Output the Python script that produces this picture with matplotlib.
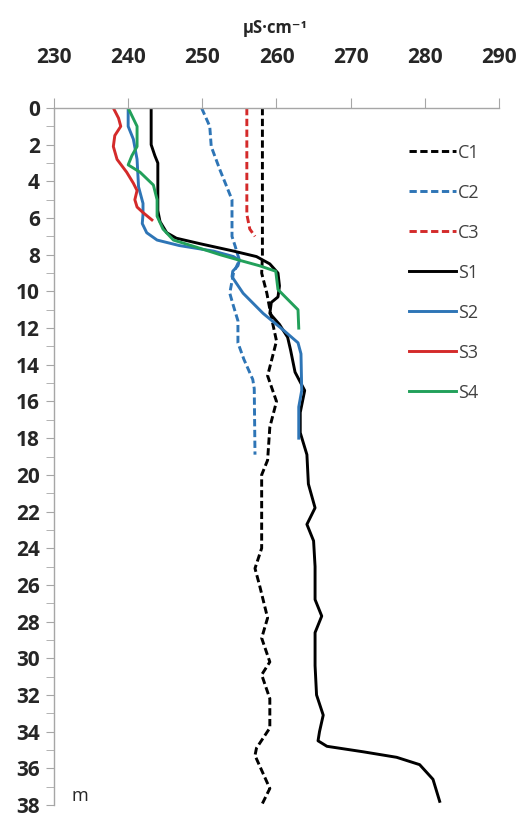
import matplotlib.pyplot as plt
from matplotlib.ticker import MultipleLocator

plt.rcParams['font.family'] = ['Open Sans', 'DejaVu Sans']

# depth (m) and conductivity (uS/cm)
c1_depth = [0, 8.1, 9.0, 10.1, 11.4, 12.7, 14.6, 16.0, 17.4, 19.2, 20.0, 21.8, 24.0, 25.1, 26.0,
            27.8, 28.9, 30.2, 30.9, 32.2, 33.8, 34.9, 35.3, 37.1, 38.0]
c1_val = [258.1, 258.1, 258.0, 258.7, 259.3, 260.0, 258.8, 260.0, 259.1, 258.8, 258.0, 258.0, 258.0,
          257.1, 257.7, 258.8, 258.0, 259.1, 258.0, 259.1, 259.1, 257.3, 257.1, 259.1, 258.0]

c2_depth = [0, 1.0, 2.1, 3.4, 4.5, 5.0, 7.0, 7.5, 8.3, 9.0, 10.1, 10.8, 11.6, 12.8, 13.7, 14.8, 15.3, 18.9]
c2_val = [249.9, 251.0, 251.2, 252.4, 253.5, 254.0, 254.0, 254.4, 255.0, 254.2, 253.7, 254.2, 254.8,
          254.8, 255.6, 256.8, 257.0, 257.1]

c3_depth = [0, 5.8, 6.6, 7.0]
c3_val = [256.0, 256.0, 256.4, 257.1]

s1_depth = [0, 2.0, 2.6, 3.0, 5.6, 6.2, 6.8, 7.1, 7.4, 7.8, 8.1, 8.5, 9.0, 9.7, 10.3, 10.6, 11.2, 11.8,
            12.5, 13.2, 14.4, 15.4, 16.6, 17.7, 18.9, 20.5, 21.8, 22.7, 23.6, 25.0, 26.8, 27.7, 28.6,
            30.4, 32.0, 33.1, 34.0, 34.5, 34.8, 35.1, 35.4, 35.8, 36.6, 37.8]
s1_val = [243.1, 243.1, 243.6, 244.0, 244.0, 244.3, 245.2, 246.5, 249.7, 254.2, 257.3, 259.1, 260.2,
          260.4, 260.2, 259.3, 259.1, 260.4, 261.5, 261.9, 262.5, 263.8, 263.2, 263.2, 264.1, 264.3,
          265.2, 264.1, 265.0, 265.2, 265.2, 266.1, 265.2, 265.2, 265.4, 266.3, 265.8, 265.6, 266.8,
          271.7, 276.2, 279.3, 281.1, 282.0]

s2_depth = [0, 1.0, 1.7, 2.8, 4.3, 5.2, 5.8, 6.3, 6.8, 7.2, 7.5, 7.8, 8.1, 8.3, 8.6, 8.9, 9.2, 10.1,
            11.2, 12.1, 12.8, 13.4, 15.4, 16.3, 18.0]
s2_val = [240.0, 240.0, 240.7, 241.2, 241.4, 242.0, 242.0, 241.9, 242.5, 243.9, 246.9, 251.5, 254.2,
          255.0, 254.8, 254.1, 254.0, 255.5, 258.2, 260.9, 262.9, 263.3, 263.4, 263.0, 263.0]

s3_depth = [0, 0.55, 1.0, 1.5, 2.1, 2.8, 3.5, 4.1, 4.5, 5.0, 5.4, 5.7, 6.1]
s3_val = [238.0, 238.7, 239.0, 238.2, 238.0, 238.5, 239.8, 240.7, 241.2, 240.9, 241.2, 242.0, 243.2]

s4_depth = [0, 1.0, 2.1, 2.6, 3.1, 3.5, 4.2, 5.0, 5.9, 6.6, 7.2, 7.6, 8.0, 8.3, 8.6, 8.9, 9.9, 11.0, 12.0]
s4_val = [240.0, 241.2, 241.2, 240.5, 240.0, 241.6, 243.4, 243.9, 243.9, 244.7, 246.1, 249.3, 252.4,
          255.0, 257.7, 259.9, 260.2, 262.9, 263.0]

blue = '#2e75b6'
red = '#d42a2a'
green = '#22a05a'

fig = plt.figure(figsize=(5.2, 8.14), dpi=100)
ax = fig.add_axes([54 / 520, 1 - 805 / 814, 445 / 520, 697 / 814])

dash = (0, (2.5, 1.2))
lw = 2.1
ax.plot(c1_val, c1_depth, color='black', lw=lw, ls=dash, label='C1')
ax.plot(c2_val, c2_depth, color=blue, lw=lw, ls=dash, label='C2')
ax.plot(c3_val, c3_depth, color=red, lw=lw, ls=dash, label='C3')
ax.plot(s1_val, s1_depth, color='black', lw=lw, label='S1')
ax.plot(s2_val, s2_depth, color=blue, lw=lw, label='S2')
ax.plot(s3_val, s3_depth, color=red, lw=lw, label='S3')
ax.plot(s4_val, s4_depth, color=green, lw=lw, label='S4')

ax.set_xlim(230, 290)
ax.set_ylim(38, 0)
ax.xaxis.set_major_locator(MultipleLocator(10))
ax.yaxis.set_major_locator(MultipleLocator(2))
ax.yaxis.set_minor_locator(MultipleLocator(1))
ax.xaxis.tick_top()

for s in ['right', 'bottom']:
    ax.spines[s].set_visible(False)
for s in ['left', 'top']:
    ax.spines[s].set_color('#a6a6a6')
    ax.spines[s].set_linewidth(1.0)

ax.tick_params(axis='x', which='major', direction='out', length=7, color='#a6a6a6',
               pad=22, labelsize=15, labelcolor='#262626')
ax.tick_params(axis='y', which='major', direction='out', length=6, color='#a6a6a6',
               pad=4, labelsize=15, labelcolor='#262626')
ax.tick_params(axis='y', which='minor', direction='out', length=6, color='#a6a6a6')
for lab in ax.get_xticklabels() + ax.get_yticklabels():
    lab.set_fontweight('bold')

fig.text(275 / 520, 1 - 28 / 814, 'µS·cm⁻¹', ha='center', va='center',
         fontsize=12, fontweight='bold', color='#262626')
ax.text(233.5, 37.5, 'm', ha='center', va='center', fontsize=13, color='#262626')

leg = ax.legend(loc='upper left', bbox_to_anchor=(0.798, 0.949), frameon=False,
                fontsize=13, handlelength=2.6, handletextpad=0.1, labelspacing=1.22,
                borderaxespad=0, borderpad=0)
for t in leg.get_texts():
    t.set_color('#404040')

fig.savefig('out.png', dpi=100)
